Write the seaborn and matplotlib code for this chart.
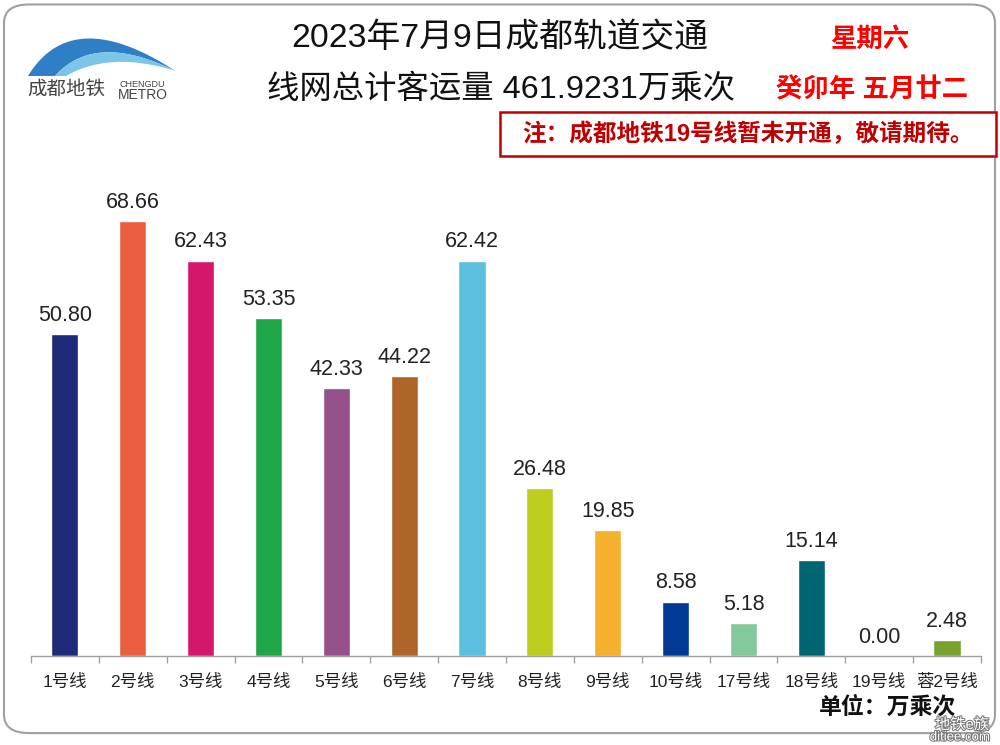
import numpy as np
import pandas as pd
import matplotlib
matplotlib.use("Agg")
import matplotlib.pyplot as plt
import matplotlib.patheffects as pe
import seaborn as sns
from matplotlib.patches import FancyBboxPatch, Rectangle, Polygon

# data
lines = ["1号线", "2号线", "3号线", "4号线", "5号线", "6号线", "7号线",
         "8号线", "9号线", "10号线", "17号线", "18号线", "19号线", "蓉2号线"]
riders = [50.80, 68.66, 62.43, 53.35, 42.33, 44.22, 62.42,
          26.48, 19.85, 8.58, 5.18, 15.14, 0.00, 2.48]
colors = ["#1F2A7A", "#E95E3E", "#D4176B", "#1FA54A", "#96508A", "#AE652A", "#5BC0DD",
          "#BCCD1E", "#F5B12E", "#003A96", "#84C99B", "#006572", "#888888", "#77A22D"]

df = pd.DataFrame({"line": lines, "riders": riders})

sns.set_theme(style="white")
plt.rcParams['font.family'] = ['Liberation Sans', 'Noto Sans CJK SC', 'DejaVu Sans']

fig = plt.figure(figsize=(10, 7.45), dpi=100)

# rounded frame
frame = FancyBboxPatch((0.004, 0.016), 0.991, 0.978, boxstyle="round,pad=0,rounding_size=0.025",
                       transform=fig.transFigure, facecolor="white", edgecolor="#A0A0A0",
                       linewidth=1.5, zorder=0)
fig.patches.append(frame)

ax = fig.add_axes([0.031, 0.1195, 0.95, 0.68])
ax.set_zorder(3)
ax.patch.set_alpha(0)
sns.barplot(data=df, x="line", y="riders", hue="line", palette=colors, legend=False,
            width=0.4, ax=ax, saturation=1)
ax.set_ylim(0, 80)
ax.set_xlim(-0.5, len(lines) - 0.5)
ax.set_xlabel("")
ax.set_ylabel("")
ax.set_yticks([])
for s in ["top", "right", "left"]:
    ax.spines[s].set_visible(False)
ax.spines["bottom"].set_color("#A0A0A0")
ax.spines["bottom"].set_linewidth(1)
ax.set_xticks(range(len(lines)))
ax.set_xticklabels(lines, fontsize=12.5, color="#222222")
ax.tick_params(axis="x", length=0, pad=13)
ax.set_xticks(np.arange(-0.5, len(lines), 1), minor=True)
ax.tick_params(axis="x", which="minor", length=5, color="#A0A0A0", width=1, bottom=True)

for i, v in enumerate(riders):
    ax.text(i, v + 1.3, f"{v:.2f}", ha="center", va="bottom", fontsize=15.5, color="#222222")

# titles
fig.text(0.50, 0.949, "2023年7月9日成都轨道交通", ha="center", va="center", fontsize=24.3, color="#111111")
fig.text(0.501, 0.879, "线网总计客运量 461.9231万乘次", ha="center", va="center", fontsize=23.3, color="#111111")
fig.text(0.870, 0.947, "星期六", ha="center", va="center", fontsize=19, color="#FF0000", fontweight="bold")
fig.text(0.872, 0.879, "癸卯年 五月廿二", ha="center", va="center", fontsize=19, color="#FF0000", fontweight="bold")

# note box
fig.patches.append(Rectangle((0.500, 0.790), 0.496, 0.060, transform=fig.transFigure,
                             facecolor="white", edgecolor="#C00000", linewidth=1.8))
fig.text(0.748, 0.820, "注：成都地铁19号线暂未开通，敬请期待。", ha="center", va="center",
         fontsize=17, color="#C00000", fontweight="bold")

# unit
fig.text(0.888, 0.051, "单位：万乘次", ha="center", va="center", fontsize=16.5, color="#111111", fontweight="bold")

# logo swoosh
t = np.linspace(0, 1, 40)
def bez(p0, p1, p2):
    return np.array([(1 - t) ** 2 * p0[i] + 2 * (1 - t) * t * p1[i] + t ** 2 * p2[i] for i in range(2)]).T

outer = bez((0.028, 0.898), (0.072, 0.995), (0.175, 0.905))
inner = bez((0.175, 0.905), (0.095, 0.958), (0.055, 0.898))
fig.patches.append(Polygon(np.vstack([outer, inner]), closed=True, transform=fig.transFigure,
                           facecolor="#2E7FC6", edgecolor="none"))
outer2 = bez((0.055, 0.898), (0.095, 0.958), (0.175, 0.905))
inner2 = bez((0.175, 0.905), (0.110, 0.932), (0.066, 0.898))
fig.patches.append(Polygon(np.vstack([outer2, inner2]), closed=True, transform=fig.transFigure,
                           facecolor="#7CC4E8", edgecolor="none"))
fig.text(0.027, 0.879, "成都地铁", ha="left", va="center", fontsize=14, color="#444444")
fig.text(0.119, 0.887, "CHENGDU", ha="left", va="center", fontsize=6.5, color="#444444")
fig.text(0.118, 0.872, "METRO", ha="left", va="center", fontsize=10, color="#444444")

# watermark
fig.text(0.962, 0.027, "地铁e族", ha="center", va="center", fontsize=11, color="white",
         path_effects=[pe.withStroke(linewidth=1.5, foreground="#777777")])
fig.text(0.960, 0.010, "ditiee.com", ha="center", va="center", fontsize=9.5, color="white",
         path_effects=[pe.withStroke(linewidth=1.5, foreground="#777777")])

fig.savefig("out.png", dpi=100)
